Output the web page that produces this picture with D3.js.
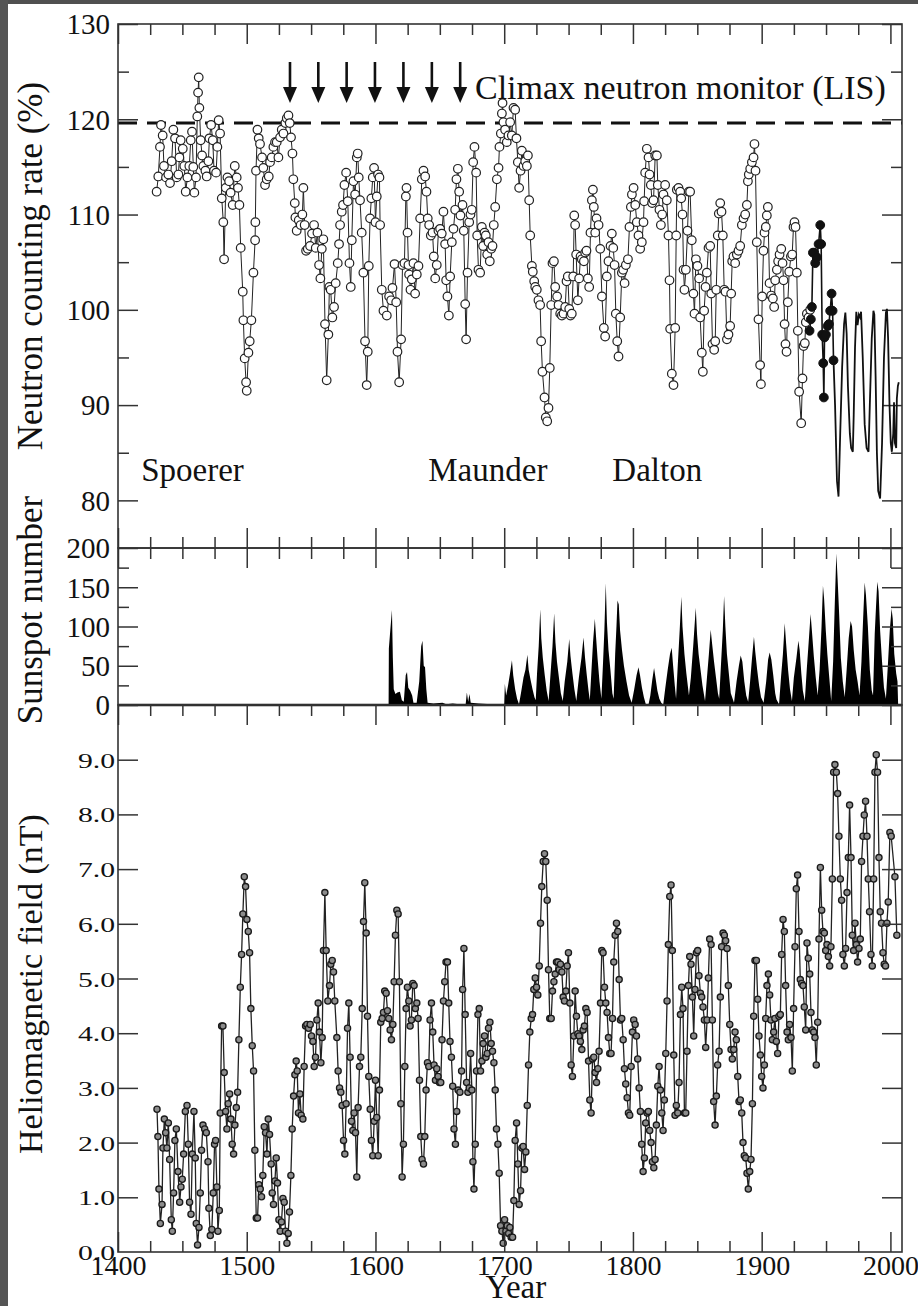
<!DOCTYPE html>
<html>
<head>
<meta charset="utf-8">
<script src="https://cdn.jsdelivr.net/npm/d3@7"></script>
<style>
  body { margin: 0; background: #fff; }
  svg text { font-family: "Liberation Serif", "Times New Roman", serif; fill: #111; }
  .axis path.domain { display: none; }
  .axis line { stroke: #333; stroke-width: 1.5px; }
</style>
</head>
<body>
<div id="chart"></div>
<script>
// ---- data ----

// neutron counting rate (%), open circles
const neutronOpen = [
  [1430.0,112.4],[1431.3,114.0],[1432.6,117.1],[1433.4,119.4],[1434.7,118.3],[1435.7,115.1],[1437.3,113.9],[1439.1,114.2],[1440.4,113.3],[1441.7,115.6],
  [1443.0,118.9],[1444.3,118.0],[1445.6,113.9],[1446.9,114.2],[1447.7,116.0],[1448.7,117.8],[1450.3,116.9],[1451.5,115.1],[1452.6,112.4],[1453.9,113.9],
  [1455.4,115.1],[1456.5,117.8],[1457.5,118.7],[1458.5,115.0],[1459.3,112.3],[1460.6,113.9],[1461.6,120.3],[1462.2,122.8],[1462.7,124.4],[1463.2,121.2],
  [1464.2,117.8],[1465.3,116.2],[1466.3,115.1],[1467.9,114.6],[1468.9,114.0],[1470.2,115.6],[1471.0,118.0],[1472.3,119.4],[1473.6,117.8],[1474.6,114.6],
  [1476.2,114.4],[1477.2,117.1],[1478.2,119.9],[1479.3,118.5],[1480.6,111.7],[1481.8,109.2],[1482.4,105.3],[1483.7,112.8],[1485.0,113.9],[1486.3,113.5],
  [1487.5,112.3],[1489.1,111.0],[1490.7,115.1],[1492.2,113.9],[1493.2,112.8],[1494.3,111.0],[1495.3,106.5],[1496.9,101.9],[1497.4,98.9],[1498.4,94.9],
  [1499.5,92.4],[1500.0,91.5],[1501.3,95.5],[1502.3,96.7],[1503.6,98.9],[1505.2,103.9],[1506.5,107.3],[1506.7,109.2],[1507.2,114.6],[1508.3,118.9],
  [1509.3,118.0],[1510.3,117.4],[1511.9,116.0],[1512.9,114.9],[1514.2,113.1],[1515.5,113.7],[1517.1,114.0],[1518.1,115.5],[1519.4,116.0],[1520.7,117.1],
  [1522.0,117.6],[1523.3,117.6],[1524.6,116.0],[1525.9,118.1],[1527.2,118.9],[1528.5,118.5],[1530.0,119.6],[1531.1,120.1],[1532.4,120.4],[1533.4,119.6],
  [1534.4,118.1],[1535.5,116.4],[1536.2,113.7],[1537.3,111.2],[1537.8,109.7],[1538.8,108.3],[1540.4,109.4],[1541.9,108.9],[1543.2,110.0],[1544.0,112.8],
  [1545.0,108.9],[1546.1,106.2],[1547.4,106.4],[1549.2,106.7],[1550.7,108.0],[1552.3,108.9],[1553.6,106.5],[1554.9,108.1],[1556.2,104.7],[1557.2,103.3],
  [1558.3,106.4],[1559.5,107.4],[1560.8,98.5],[1562.1,92.6],[1563.4,97.4],[1564.2,102.4],[1565.2,102.1],[1566.5,99.2],[1567.8,100.3],[1569.1,102.8],
  [1570.7,104.9],[1571.7,106.9],[1572.5,108.9],[1573.8,110.3],[1574.8,111.0],[1575.9,113.1],[1577.2,114.4],[1578.5,111.4],[1579.8,104.9],[1580.8,102.4],
  [1581.6,107.3],[1582.9,113.5],[1584.2,112.1],[1585.5,116.0],[1586.2,116.4],[1587.0,113.9],[1588.0,111.5],[1589.3,108.1],[1590.6,103.9],[1591.9,96.7],
  [1593.2,92.1],[1594.0,95.6],[1594.8,104.6],[1595.8,109.6],[1596.8,111.7],[1597.9,113.9],[1598.9,114.9],[1600.0,109.2],[1601.0,111.9],[1602.0,114.2],
  [1603.1,113.9],[1603.6,108.9],[1604.9,102.1],[1606.2,99.9],
  [1608.8,99.4],[1610.6,101.4],[1612.2,101.0],[1613.2,102.3],[1614.8,104.8],[1616.1,100.8],[1617.1,95.6],[1618.4,92.4],[1619.9,96.9],[1621.0,104.7],
  [1622.5,104.9],[1623.6,111.9],[1624.1,112.8],[1624.9,108.1],[1625.6,104.7],[1626.1,103.7],[1627.2,102.1],[1628.2,103.2],[1629.5,104.9],[1630.8,101.7],
  [1632.1,103.7],[1633.4,104.6],[1634.7,109.6],[1636.0,113.7],[1637.3,114.6],[1638.6,114.0],[1639.6,112.4],[1640.6,109.6],[1641.7,108.9],[1643.0,107.8],
  [1644.3,108.1],[1645.3,105.6],[1646.4,103.3],[1647.6,104.7],[1648.9,108.3],[1650.2,108.5],[1651.5,108.0],[1652.8,110.3],[1654.1,106.9],[1654.9,103.1],
  [1655.9,101.4],[1657.0,99.4],[1658.0,103.5],[1659.3,107.1],[1660.6,108.5],[1661.9,110.5],[1662.9,113.7],[1664.0,114.8],[1665.0,112.4],[1666.0,109.9],
  [1667.6,111.0],[1668.6,108.3],[1669.7,100.6],[1670.4,96.9],[1671.5,103.9],[1672.8,109.2],[1673.8,110.0],[1674.8,110.5],[1675.9,115.5],[1676.9,117.1],
  [1678.2,114.4],[1679.0,107.8],[1680.0,104.2],[1681.3,103.9],[1682.6,108.7],[1683.6,106.7],[1684.7,108.1],[1685.7,107.8],[1686.8,105.8],[1687.8,107.1],
  [1688.8,105.1],[1689.9,106.4],[1690.9,106.7],[1691.9,108.9],[1693.0,110.8],[1694.3,113.7],[1695.6,114.9],[1696.3,117.1],[1697.4,118.5],[1698.2,120.6],
  [1698.7,121.7],[1699.4,119.7],[1700.7,118.9],[1702.0,117.6],[1703.3,118.3],[1704.6,119.7],[1705.9,118.3],[1707.2,121.2],[1708.5,121.0],[1709.5,118.0],
  [1710.6,115.5],[1711.6,112.8],[1712.7,114.6],[1713.7,116.7],[1715.0,115.1],[1716.3,115.6],[1717.6,115.1],[1718.4,116.2],[1719.4,111.5],[1720.2,107.8],
  [1721.5,104.6],[1722.2,104.0],[1723.3,103.0],[1724.1,102.4],[1725.3,102.1],[1726.6,101.0],[1727.9,100.5],[1728.7,96.7],[1729.7,93.5],[1731.3,90.8],
  [1732.3,88.7],[1733.4,88.3],[1734.4,89.7],[1735.4,93.9],[1736.5,100.5],[1737.5,104.9],[1738.6,105.1],[1739.6,102.4],[1741.1,101.4],[1742.2,100.5],
  [1743.5,99.6],[1744.8,99.4],[1746.1,99.6],[1747.4,100.3],[1748.4,103.0],[1749.4,103.5],[1750.5,100.1],[1751.5,99.4],[1752.5,99.6],[1753.6,103.5],
  [1754.4,109.9],[1755.1,108.9],[1755.9,105.8],[1757.2,101.0],[1758.2,103.3],[1759.3,105.6],[1760.3,105.3],[1761.9,105.1],[1762.9,106.0],[1763.9,106.2],
  [1765.0,103.3],[1766.0,102.4],[1767.0,108.1],[1768.1,111.5],[1768.9,112.6],[1769.6,110.8],[1770.7,108.1],[1771.7,109.6],[1773.3,108.9],[1774.6,106.4],
  [1775.9,101.4],[1777.4,98.1],[1778.4,97.2],[1779.7,103.5],[1781.0,105.1],[1782.6,106.7],[1783.6,108.0],[1784.7,106.5],[1785.7,104.7],[1786.7,99.6],
  [1787.8,96.7],[1788.8,95.1],[1790.1,99.2],[1791.4,103.9],[1792.4,104.2],[1793.5,102.8],[1794.5,104.7],[1796.1,105.3],[1797.3,108.7],[1798.4,110.8],
  [1799.2,112.1],[1800.5,112.8],[1801.8,111.0],[1803.0,109.2],[1804.3,107.8],[1805.6,106.4],
  [1806.9,107.1],[1808.2,109.2],[1808.7,111.4],[1809.5,114.4],[1810.8,116.9],[1812.1,116.0],[1812.9,114.2],[1813.9,113.1],[1814.9,111.2],[1816.0,111.5],
  [1817.3,116.2],[1818.6,116.2],[1819.3,113.1],[1820.6,110.5],[1821.7,108.9],[1822.7,110.0],[1823.7,112.1],[1825.0,113.1],[1826.3,111.5],[1827.6,107.8],
  [1828.4,103.1],[1828.9,98.0],[1830.2,93.3],[1831.5,92.1],[1832.8,98.1],[1833.6,107.8],[1834.1,112.6],[1835.4,112.8],[1836.7,112.4],[1837.5,111.7],
  [1838.5,110.0],[1839.3,104.2],[1840.0,102.1],[1841.1,104.2],[1842.4,108.3],[1843.4,112.4],[1844.4,112.4],[1845.7,107.3],[1847.0,101.7],[1847.8,99.6],
  [1848.9,105.3],[1850.1,104.6],[1851.4,103.3],[1852.2,99.2],[1853.5,95.5],[1854.3,93.5],[1855.3,99.9],[1856.4,102.4],[1857.4,103.9],[1858.7,106.5],
  [1860.0,106.7],[1860.8,101.7],[1861.8,96.4],[1863.1,95.8],[1863.9,96.7],[1864.7,102.1],[1865.9,107.8],[1866.7,110.1],[1867.8,111.2],[1868.8,110.3],
  [1869.8,107.8],[1870.9,102.1],[1871.9,101.9],[1873.0,96.9],[1874.2,97.4],[1875.5,98.3],[1876.3,101.7],[1877.1,105.1],[1878.1,105.6],[1879.4,104.9],
  [1880.7,105.8],[1882.0,106.2],[1883.3,106.7],[1884.6,108.9],[1885.9,109.6],[1887.2,110.0],[1888.5,111.0],[1889.3,113.5],[1890.0,114.2],[1891.1,114.8],
  [1892.4,115.5],[1893.7,116.0],[1894.4,117.4],[1895.2,114.6],[1896.2,107.1],[1897.5,99.0],[1898.8,94.2],[1899.4,92.2],[1900.4,101.4],[1901.4,106.2],
  [1902.2,108.1],[1903.2,108.7],[1904.0,109.9],[1904.8,110.8],[1906.1,102.8],[1907.4,101.5],[1908.7,101.2],[1909.7,100.3],[1910.5,103.1],[1911.8,104.2],
  [1912.8,105.1],[1913.9,105.8],[1915.2,106.4],[1916.2,104.9],[1917.0,103.1],[1917.8,98.5],[1918.5,96.4],[1919.3,95.6],[1920.3,100.8],[1921.4,104.0],
  [1922.7,105.6],[1923.7,105.8],[1924.7,108.7],[1925.5,109.2],[1926.3,108.7],[1927.3,103.9],[1928.1,97.8],[1929.1,91.4],[1930.7,88.1],[1931.7,92.8],
  [1932.5,96.2],[1933.5,96.5],[1934.3,98.7],[1935.1,99.6],[1936.4,99.2],[1937.7,100.0]
];

// neutron counting rate, filled circles
const neutronFilled = [
  [1937.2,97.8],[1938.2,99.0],[1939.0,100.3],[1939.8,106.0],[1940.8,106.0],[1941.6,104.9],[1942.9,105.5],[1944.2,106.9],[1945.5,108.9],[1946.2,106.9],
  [1947.0,97.4],[1947.8,94.4],[1948.3,90.8],[1948.8,97.1],[1949.9,97.4],[1951.2,98.3],[1952.2,98.5],[1953.2,99.9],[1954.3,101.7],[1955.1,99.9],[1955.8,94.7]
];

// Climax neutron monitor, plain line
const climaxLine = [
  [1955.8,94.7],[1957.0,90.0],[1958.5,82.0],[1959.7,80.4],[1961.0,87.0],[1962.5,94.0],[1964.0,98.5],[1965.0,99.7],[1966.0,97.5],[1967.0,92.0],
  [1968.5,87.0],[1969.5,85.5],[1970.8,85.1],[1971.5,89.0],[1972.5,96.0],[1973.5,99.8],[1974.5,98.4],[1975.5,99.5],[1976.5,99.2],[1977.2,99.8],
  [1978.5,95.0],[1980.0,88.0],[1981.5,85.5],[1983.0,85.1],[1984.0,90.0],[1985.5,97.0],[1986.8,99.9],[1987.5,99.5],[1988.5,93.0],[1989.5,85.0],
  [1990.5,81.0],[1992.0,80.2],[1993.5,86.0],[1995.0,95.0],[1996.5,99.7],[1997.3,100.1],[1998.2,97.0],[1999.3,90.0],[2000.3,86.0],[2001.1,85.1],
  [2002.2,87.0],[2002.8,90.3],[2003.5,86.0],[2004.5,85.5],[2005.0,90.7],[2005.8,92.0],[2006.5,92.4]
];

const lisLevel = 119.6;
const arrowYears = [1533.6, 1555.6, 1577.6, 1599.6, 1621.7, 1643.8, 1665.8];
const minimaLabels = [["Spoerer", 1418], ["Maunder", 1641], ["Dalton", 1784]];

// sunspot number
const sunspots = [
  [1610.2,0],[1610.4,72],[1611.5,95],[1612.8,121],[1613.5,60],[1614.2,20],[1615.5,14],[1617,16],[1619,17],[1620.5,6],
  [1622,4],[1623.5,38],[1624.5,42],[1625.5,22],[1627,18],[1628.5,12],[1629.5,3],[1632,3],[1634,30],[1635.5,75],
  [1636.5,82],[1637.5,50],[1638.5,48],[1639.5,20],[1640.5,3],[1645,2],[1652,3],[1655,1],[1660,2],[1665,1],
  [1670,0],[1671,16],[1672,4],[1673,14],[1674,3],[1680,2],[1690,1],[1697,0],
  [1700,0],[1700.5,27],[1701.5,12],[1703,25],[1704.5,40],[1706,57],[1707,38],[1708.5,20],[1710,8],[1711.5,1],
  [1713,15],[1715,35],[1716.5,45],[1718,64],[1719,45],[1720.5,32],[1722,20],[1723.5,10],[1724.5,6],
  [1725.5,40],[1726.8,75],[1728,122],[1728.8,85],[1730,60],[1731.5,38],[1733,18],[1734.5,5],
  [1736,40],[1737.5,75],[1738.8,117],[1739.8,80],[1741,55],[1742.5,35],[1744,15],[1745.5,5],
  [1747,30],[1749,55],[1750.5,84],[1751.5,62],[1753,40],[1754.5,20],[1756,5],
  [1758,35],[1760,60],[1761.6,86],[1762.8,60],[1764,40],[1765.5,18],[1766.5,6],
  [1767.8,45],[1769,80],[1770.4,110],[1771.3,88],[1772.5,60],[1774,30],[1775.5,8],
  [1776.8,55],[1777.8,95],[1778.9,155],[1779.8,105],[1781,70],[1782.5,45],[1784,15],[1785,8],
  [1786.2,65],[1787.2,100],[1788,133],[1789,128],[1790,95],[1791.5,70],[1793,50],[1795,30],[1797,12],[1799,3],
  [1801,20],[1802.8,38],[1804.3,48],[1805.5,38],[1807,22],[1808.5,10],[1810,1],[1812,0],
  [1813.5,12],[1815,32],[1816.4,47],[1817.5,35],[1819,18],[1820.5,8],[1822,3],[1823.5,0],
  [1825,20],[1827,45],[1828.8,65],[1830.1,73],[1831.2,50],[1832.5,25],[1833.5,8],
  [1834.8,50],[1836.3,95],[1837.6,138],[1838.5,100],[1840,65],[1841.5,40],[1843.5,12],
  [1845,35],[1846.8,75],[1848.8,124],[1849.8,90],[1851,65],[1852.5,45],[1854,25],[1856,5],
  [1857.5,35],[1859,65],[1860.4,96],[1861.5,78],[1863,55],[1864.5,35],[1866,15],[1867,8],
  [1868.5,55],[1869.8,95],[1870.8,139],[1871.8,100],[1873,65],[1874.5,40],[1876,15],[1878.5,3],
  [1880.5,30],[1882.3,50],[1883.7,63],[1885,55],[1886.5,30],[1888,12],[1889.5,4],
  [1891,30],[1892.5,60],[1894,87],[1895,68],[1896.5,45],[1898,25],[1899.5,10],[1901.5,3],
  [1903.5,30],[1905,58],[1906.2,67],[1907.5,58],[1909,38],[1910.5,15],[1911.5,7],[1913.5,1],
  [1915,35],[1916.5,65],[1917.9,104],[1919,78],[1920.5,45],[1922,20],[1923.5,5],
  [1925,35],[1927,60],[1928.5,82],[1929.5,70],[1930.8,40],[1932,18],[1933.5,5],
  [1935,45],[1936.5,80],[1938,116],[1939,95],[1940.5,62],[1942,35],[1943.5,12],
  [1945,45],[1946.5,100],[1947.6,152],[1948.5,135],[1949.8,95],[1951,65],[1952.5,35],[1954,5],
  [1955.5,55],[1956.8,130],[1958,193],[1959,160],[1960.2,115],[1961.5,60],[1963,30],[1964.5,10],
  [1966,45],[1967.6,85],[1969.1,107],[1970.2,100],[1971.5,70],[1973,45],[1974.5,30],[1976,12],
  [1977.5,55],[1978.8,110],[1980,156],[1981,140],[1982.5,100],[1984,45],[1985.5,18],[1986.5,12],
  [1987.8,90],[1988.8,125],[1989.8,157],[1990.8,145],[1992,95],[1993.5,55],[1995,22],[1996.5,8],
  [1998,50],[1999.5,95],[2000.9,123],[2001.8,110],[2003,65],[2004.5,40],[2005.5,30],[2006,0]
];

// heliomagnetic field (nT)
const helioField = [
  [1430.3,2.61],[1431.0,2.11],[1431.8,1.15],[1432.9,0.52],[1434.2,0.87],[1434.9,1.90],[1436.0,2.43],[1437.0,2.18],[1438.0,1.90],[1439.1,2.36],
  [1440.1,1.69],[1441.4,0.59],[1442.2,0.38],[1443.2,1.08],[1444.2,2.04],[1445.3,2.25],[1446.6,1.47],[1447.9,0.91],[1448.9,1.19],[1449.9,1.33],
  [1451.0,1.79],[1452.3,2.57],[1453.6,2.68],[1454.6,1.97],[1455.6,0.91],[1456.7,0.69],[1457.7,1.79],[1459.0,2.57],[1460.0,1.72],[1460.8,0.52],
  [1461.8,0.13],[1462.9,0.45],[1463.9,1.08],[1464.9,1.86],[1466.0,2.32],[1467.3,2.25],[1468.6,2.18],[1469.9,1.65],[1470.6,0.80],[1471.7,0.30],
  [1472.9,0.41],[1474.0,1.08],[1475.0,1.97],[1475.8,2.04],[1476.8,1.19],[1477.6,0.38],[1478.7,0.76],[1479.4,2.54],[1480.5,4.13],[1481.5,4.13],
  [1482.5,3.28],[1483.6,2.57],[1484.6,2.25],[1485.6,2.71],[1486.7,2.89],[1487.7,2.43],[1488.7,1.97],[1489.8,1.79],[1490.8,2.32],[1491.9,2.64],
  [1492.9,2.92],[1493.9,3.88],[1495.0,4.84],[1496.0,5.44],[1497.0,6.18],[1498.1,6.86],[1499.1,6.68],[1500.1,6.08],[1501.2,5.86],[1502.2,5.47],
  [1503.2,4.45],[1504.3,3.77],[1505.3,3.31],[1506.3,1.86],[1507.4,0.62],[1508.4,0.62],[1509.4,1.23],[1510.5,1.15],[1511.5,1.01],[1512.5,1.40],
  [1513.6,2.29],[1514.6,2.18],[1515.7,1.79],[1516.7,2.43],[1517.7,2.15],[1519.0,1.61],[1519.8,1.08],[1520.8,0.87],[1521.9,1.30],[1522.9,1.72],
  [1523.9,1.26],[1525.0,0.59],[1526.0,0.38],[1527.0,0.55],[1528.1,0.98],[1529.1,0.91],[1530.1,0.38],[1531.2,0.16],[1532.2,0.34],[1533.2,0.73],
  [1534.3,1.40],[1535.3,2.25],[1536.4,2.85],[1537.4,3.24],[1538.4,3.49],[1539.2,3.31],[1540.2,2.54],[1541.3,2.89],[1542.3,2.50],[1543.6,2.43],
  [1544.6,3.39],[1545.7,4.13],[1546.7,4.16],[1548.0,4.09],[1549.3,4.16],[1550.3,3.95],[1551.4,3.85],[1552.4,3.39],[1553.4,3.56],[1554.5,4.24],
  [1555.5,4.55],[1556.5,4.02],[1557.6,3.46],[1558.6,3.92],[1559.6,5.51],[1560.7,6.57],[1561.7,5.51],[1563.0,4.59],[1564.3,4.87],[1565.3,5.26],
  [1566.4,5.33],[1567.4,5.12],[1568.4,4.59],[1570.0,3.92],[1571.0,3.31],[1572.1,3.00],[1573.1,2.92],[1574.1,2.68],[1575.2,2.04],[1576.2,1.79],
  [1577.2,2.71],[1578.3,4.09],[1579.3,4.55],[1580.3,3.56],[1581.4,2.39],[1582.4,2.22],[1583.4,2.54],[1584.5,2.18],[1585.5,1.37],[1586.5,2.64],
  [1587.6,3.39],[1588.6,3.56],[1589.7,4.45],[1590.7,6.04],[1591.7,6.75],[1592.8,5.83],[1593.8,4.31],[1594.8,3.21],[1595.9,2.61],[1596.9,2.04],
  [1597.9,1.76],[1599.0,2.39],[1600.0,3.14],[1601.0,2.46],[1602.1,1.76],[1603.1,2.96],[1604.1,4.20],[1605.2,4.27],[1606.2,4.38],[1607.2,4.77],
  [1608.3,4.73],[1609.3,4.41],[1610.3,4.27],[1611.4,4.06],[1612.4,3.88],[1613.5,4.16],[1614.5,4.94],[1615.5,5.79],[1616.6,6.25],[1617.6,6.18],
  [1618.6,4.94],[1619.7,2.71],[1620.7,1.37],[1621.7,1.97],[1622.8,3.39],[1623.8,4.45],[1624.8,4.84],[1625.9,4.59],[1626.9,4.13],[1627.9,4.24],
  [1629.0,4.91],[1630.0,4.87],[1631.0,4.45],[1632.1,4.55],[1633.1,4.27],[1634.2,3.14],[1635.2,2.11],[1636.2,1.69],[1637.3,1.61],[1638.3,2.11],
  [1639.3,2.96],[1640.4,3.46],[1641.4,3.39],[1642.4,4.24],[1643.5,4.55],[1644.5,4.02],[1645.5,3.42],[1646.6,3.14],[1647.6,3.35],[1648.6,3.21],
  [1649.7,3.10],[1650.7,3.10],[1651.7,3.88],[1652.8,4.59],[1653.8,4.94],[1654.8,5.30],[1655.9,5.30],[1656.9,4.55],[1657.9,3.85],[1659.0,3.56],
  [1660.0,3.03],[1661.0,2.25],[1662.1,1.97],[1663.1,2.57],[1664.2,2.96],[1665.6,2.92],[1666.9,3.31],[1667.7,4.80],[1668.7,5.55],[1669.7,4.34],
  [1670.8,3.10],[1671.8,2.92],[1672.8,3.00],[1673.9,3.63],[1674.9,2.96],[1675.7,1.65],[1676.5,1.15],[1677.5,1.97],[1678.5,3.31],[1679.6,4.34],
  [1680.6,4.45],[1681.6,3.31],[1682.7,3.49],[1683.7,3.81],[1684.7,3.95],[1685.8,3.56],[1686.8,3.63],[1687.8,4.09],[1688.9,4.20],[1689.9,3.81],
  [1690.9,3.67],[1692.0,3.46],[1693.0,2.96],[1694.0,2.25],[1695.1,1.97],[1696.1,1.44],[1697.2,0.48],[1698.2,0.38],[1699.2,0.16],[1700.3,0.59],
  [1701.3,0.38],[1702.3,0.48],[1703.4,0.34],[1704.4,0.45],[1705.4,0.27],[1706.5,0.27],[1707.5,0.94],[1708.5,2.04],[1709.6,2.36],[1710.6,1.61],
  [1711.6,0.87],[1712.7,1.12],[1713.7,1.90],[1714.7,1.93],[1715.8,1.51],[1716.8,1.83],[1717.9,2.68],[1718.9,3.42],[1719.9,4.02],[1721.0,4.27],
  [1722.0,4.34],[1723.0,4.80],[1724.1,5.01],[1725.1,4.84],[1726.1,4.70],[1727.2,5.23],[1728.2,6.01],[1729.2,6.68],[1730.3,7.14],[1731.3,7.28],
  [1732.3,7.14],[1733.4,6.43],[1734.4,5.16],[1735.4,4.27],[1736.5,4.27],[1737.5,4.77],[1738.6,4.94],[1739.6,5.08],[1740.6,5.30],[1741.7,5.30],
  [1742.7,5.16],[1743.7,5.26],[1744.8,5.12],[1745.8,4.66],[1746.8,4.59],[1747.9,4.77],[1748.9,5.23],[1749.9,5.47],[1751.0,4.55],[1752.0,3.42],
  [1753.0,3.21],[1754.1,3.95],[1755.1,4.77],[1756.1,4.31],[1757.2,3.99],[1758.2,3.95],[1759.2,3.85],[1760.3,3.70],[1761.3,4.06],[1762.3,4.13],
  [1763.4,4.45],[1764.4,4.38],[1765.5,3.49],[1766.5,2.78],[1767.5,2.54],[1768.6,3.53],[1769.6,3.56],[1770.6,3.28],[1771.7,3.10],[1772.7,3.35],
  [1773.7,3.67],[1774.8,4.55],[1775.8,5.51],[1776.8,5.47],[1777.9,4.84],[1778.9,4.55],[1779.9,4.38],[1781.0,3.92],[1782.0,3.63],[1783.0,3.63],
  [1784.1,4.27],[1785.1,5.30],[1786.2,5.79],[1787.2,6.01],[1788.2,5.86],[1789.3,4.98],[1790.3,4.24],[1791.3,4.27],[1792.4,3.88],[1793.4,3.35],
  [1794.4,3.07],[1795.5,2.82],[1796.5,2.54],[1797.5,2.50],[1798.6,3.39],[1799.6,4.02],[1800.6,4.24],[1801.7,4.16],[1802.7,3.95],[1803.7,3.53],
  [1804.8,3.00],[1805.8,2.57],[1806.8,1.97],[1807.9,1.47],[1808.9,1.72],[1809.9,2.36],[1811.0,2.54],[1812.0,2.57],[1813.0,2.22],[1814.1,2.00],
  [1815.1,1.65],[1816.2,1.54],[1817.2,1.69],[1818.2,2.32],[1819.3,3.03],[1820.3,3.39],[1821.3,2.96],[1822.4,2.54],[1823.4,2.22],[1824.4,2.78],
  [1825.5,3.63],[1826.5,4.59],[1827.5,5.62],[1828.6,6.50],[1829.6,6.71],[1830.6,5.51],[1831.7,3.60],[1832.7,2.50],[1833.7,2.68],[1834.8,2.54],
  [1835.8,3.10],[1836.9,4.34],[1837.9,4.84],[1838.9,4.45],[1840.0,2.54],[1841.0,2.54],[1842.0,3.67],[1843.1,4.87],[1844.1,5.40],[1845.1,5.26],
  [1846.2,4.66],[1847.2,3.95],[1848.2,4.80],[1849.3,5.47],[1850.3,5.51],[1851.3,5.05],[1852.4,4.73],[1853.4,4.66],[1854.4,4.48],[1855.5,4.24],
  [1856.5,3.74],[1857.6,4.24],[1858.6,5.01],[1859.6,5.72],[1860.7,5.62],[1861.7,4.24],[1862.7,2.75],[1863.8,2.32],[1864.8,2.85],[1865.8,3.42],
  [1866.9,3.67],[1867.9,4.66],[1868.9,5.58],[1870.0,5.83],[1871.0,5.79],[1872.0,5.69],[1873.1,5.55],[1874.1,4.87],[1875.2,4.16],[1876.2,3.70],
  [1877.2,3.53],[1878.3,3.70],[1879.3,4.02],[1880.3,3.88],[1881.4,3.21],[1882.4,2.75],[1883.4,2.78],[1884.5,2.54],[1885.5,2.00],[1886.5,1.76],
  [1887.6,1.72],[1888.6,1.44],[1889.6,1.15],[1890.7,1.47],[1891.7,1.69],[1892.8,2.71],[1893.8,4.31],[1894.8,5.33],[1895.9,5.33],[1896.9,4.62],
  [1897.9,3.95],[1899.0,3.60],[1900.0,3.21],[1901.0,3.00],[1902.1,3.42],[1903.1,4.27],[1904.1,4.87],[1905.2,5.08],[1906.2,4.70],[1907.2,4.24],
  [1908.3,3.88],[1909.3,4.02],[1910.3,4.27],[1911.4,3.85],[1912.4,3.63],[1913.4,4.31],[1914.5,4.34],[1915.5,5.44],[1916.6,6.08],[1917.6,5.86],
  [1918.6,4.87],[1919.7,4.02],[1920.7,3.88],[1921.7,4.16],[1922.8,3.92],[1923.8,3.31],[1924.8,4.45],[1925.9,5.58],[1926.9,6.64],[1927.9,6.89],
  [1929.0,5.86],[1930.0,4.98],[1931.0,4.91],[1932.1,4.87],[1933.1,4.48],[1934.2,4.06],[1935.2,5.65],[1936.2,5.37],[1937.3,5.08],[1938.3,4.38],
  [1939.3,4.06],[1940.4,4.02],[1941.4,3.92],[1942.4,3.42],[1943.5,4.20],[1944.5,5.72],[1945.6,7.03],[1946.6,6.25],[1947.6,5.86],[1948.7,5.83],
  [1949.7,5.51],[1950.7,5.62],[1951.8,5.40],[1952.8,5.23],[1953.8,5.58],[1954.9,6.82],[1955.9,8.77],[1956.9,8.91],[1958.0,8.77],[1959.0,8.38],
  [1960.0,7.60],[1961.1,6.82],[1962.1,6.43],[1963.1,5.44],[1964.2,5.23],[1965.2,5.55],[1966.3,6.57],[1967.3,7.21],[1968.3,8.17],[1969.4,7.21],
  [1970.4,5.79],[1971.4,5.51],[1972.5,6.01],[1973.5,5.62],[1974.5,5.30],[1975.6,5.55],[1976.6,5.72],[1977.6,7.14],[1978.7,7.60],[1979.7,7.99],
  [1980.7,8.24],[1981.8,7.60],[1982.8,6.82],[1983.8,6.22],[1984.9,5.44],[1985.9,5.23],[1987.0,6.82],[1988.0,8.77],[1989.0,9.09],[1990.0,8.77],
  [1991.1,7.21],[1992.1,6.22],[1993.1,6.01],[1994.2,5.47],[1995.2,5.26],[1996.2,5.23],[1997.3,6.01],[1998.3,6.40],[1999.6,7.67],[2000.6,7.60],
  [2003.5,6.86],[2005.0,5.79]
];

// axis ticks
const yearMajor = [1400, 1500, 1600, 1700, 1800, 1900, 2000];
const yearMinor = [1425, 1450, 1475, 1525, 1550, 1575, 1625, 1650, 1675, 1725, 1750, 1775,
                   1825, 1850, 1875, 1925, 1950, 1975];
const neutronTicks = [80, 90, 100, 110, 120, 130];
const neutronMinor = [85, 95, 105, 115, 125];
const sunspotTicks = [0, 50, 100, 150, 200];
const sunspotMinor = [25, 75, 125, 175];
const fieldTicks = [0, 1, 2, 3, 4, 5, 6, 7, 8, 9];

// ---- layout ----
const W = 918, H = 1306;
const left = 118, right = 902;
const topY = 24, midY = 548, botY = 705, baseY = 1252;

const svg = d3.select("#chart").append("svg")
    .attr("width", W)
    .attr("height", H);

svg.append("rect").attr("width", W).attr("height", H).attr("fill", "#fff");
// dark scan border
svg.append("rect").attr("x", 0).attr("y", 0).attr("width", W).attr("height", 4).attr("fill", "#505050");
svg.append("rect").attr("x", 0).attr("y", 0).attr("width", 8).attr("height", H).attr("fill", "#555");

// scales
const x = d3.scaleLinear().domain([1400, 2009]).range([left, right]);
const yN = d3.scaleLinear().domain([75, 130]).range([midY, topY]);
const yS = d3.scaleLinear().domain([0, 200]).range([botY, midY]);
const yH = d3.scaleLinear().domain([0, 10]).range([baseY, botY]);

// helper: draw major + minor ticks on one edge
function edgeTicks(axisFn, scale, major, minor, tx, ty, labels, fmt, fontSize) {
    let gMaj = svg.append("g").attr("class", "axis")
        .attr("transform", `translate(${tx},${ty})`)
        .call(axisFn(scale).tickValues(major).tickSize(-20).tickPadding(8)
            .tickFormat(labels ? fmt : ""));
    svg.append("g").attr("class", "axis")
        .attr("transform", `translate(${tx},${ty})`)
        .call(axisFn(scale).tickValues(minor).tickSize(-11).tickFormat(""));
    gMaj.selectAll("text").style("font-size", fontSize + "px");
    return gMaj;
}

// ---------- top panel: neutron rate ----------
let gTopLeft = edgeTicks(d3.axisLeft, yN, neutronTicks, neutronMinor, left, 0, true, d3.format("d"), 29);
gTopLeft.selectAll("text").attr("dy", "0.34em");
edgeTicks(d3.axisRight, yN, neutronTicks, neutronMinor, right, 0, false);
edgeTicks(d3.axisTop, x, yearMajor, yearMinor, 0, topY, false);
edgeTicks(d3.axisBottom, x, yearMajor, yearMinor, 0, midY, false);

// LIS dashed line
svg.append("line")
    .attr("x1", left).attr("x2", right)
    .attr("y1", yN(lisLevel)).attr("y2", yN(lisLevel))
    .attr("stroke", "#111").attr("stroke-width", 3)
    .attr("stroke-dasharray", "19 10");

const lineN = d3.line().x(d => x(d[0])).y(d => yN(d[1]));

svg.append("path").datum(neutronOpen)
    .attr("d", lineN).attr("fill", "none").attr("stroke", "#222").attr("stroke-width", 1);
svg.append("path").datum(neutronFilled)
    .attr("d", lineN).attr("fill", "none").attr("stroke", "#111").attr("stroke-width", 1.6);
svg.append("path").datum(climaxLine)
    .attr("d", lineN).attr("fill", "none").attr("stroke", "#111").attr("stroke-width", 1.8);

svg.append("g").selectAll("circle").data(neutronOpen).join("circle")
    .attr("cx", d => x(d[0])).attr("cy", d => yN(d[1])).attr("r", 4.3)
    .attr("fill", "#fff").attr("stroke", "#222").attr("stroke-width", 1.2);
svg.append("g").selectAll("circle").data(neutronFilled).join("circle")
    .attr("cx", d => x(d[0])).attr("cy", d => yN(d[1])).attr("r", 4.4)
    .attr("fill", "#111").attr("stroke", "#111").attr("stroke-width", 1);

// arrows
let arrows = svg.append("g").selectAll("g").data(arrowYears).join("g")
    .attr("transform", d => `translate(${x(d)},0)`);
arrows.append("line").attr("x1", 0).attr("x2", 0).attr("y1", 62).attr("y2", 92)
    .attr("stroke", "#111").attr("stroke-width", 2.6);
arrows.append("path").attr("d", "M-7,87 L7,87 L0,103 Z").attr("fill", "#111");

svg.append("text").attr("x", 475).attr("y", 99)
    .style("font-size", "34px").text("Climax neutron monitor (LIS)");

svg.selectAll(".minlab").data(minimaLabels).join("text")
    .attr("class", "minlab")
    .attr("x", d => x(d[1])).attr("y", 481)
    .style("font-size", "33px").text(d => d[0]);

// ---------- middle panel: sunspots ----------
const areaS = d3.area().x(d => x(d[0])).y0(yS(0)).y1(d => yS(d[1]));
svg.append("path").datum(sunspots).attr("d", areaS).attr("fill", "#000");
svg.append("line").attr("x1", left).attr("x2", right).attr("y1", yS(0)).attr("y2", yS(0))
    .attr("stroke", "#111").attr("stroke-width", 2.5);

let gMidLeft = edgeTicks(d3.axisLeft, yS, sunspotTicks, sunspotMinor, left, 0, true, d3.format("d"), 29);
gMidLeft.selectAll("text").attr("dy", "0.34em");
edgeTicks(d3.axisRight, yS, sunspotTicks, sunspotMinor, right, 0, false);
edgeTicks(d3.axisTop, x, yearMajor, yearMinor, 0, midY, false);

// ---------- bottom panel: heliomagnetic field ----------
const lineH = d3.line().x(d => x(d[0])).y(d => yH(d[1]));
svg.append("path").datum(helioField)
    .attr("d", lineH).attr("fill", "none").attr("stroke", "#222").attr("stroke-width", 1.3);
svg.append("g").selectAll("circle").data(helioField).join("circle")
    .attr("cx", d => x(d[0])).attr("cy", d => yH(d[1])).attr("r", 3.1)
    .attr("fill", "#8c8c8c").attr("stroke", "#1a1a1a").attr("stroke-width", 1.3);

svg.append("g").attr("class", "axis")
    .attr("transform", `translate(${left},0)`)
    .call(d3.axisLeft(yH).tickValues(fieldTicks.slice(1)).tickSize(-20).tickFormat(""));
svg.append("g").attr("class", "axis")
    .attr("transform", `translate(${right},0)`)
    .call(d3.axisRight(yH).tickValues(fieldTicks.slice(1)).tickSize(-20).tickFormat(""));
// stretched labels like the scan
svg.append("g").selectAll("text").data(fieldTicks).join("text")
    .attr("transform", d => `translate(${left - 3},${yH(d) + 8}) scale(1.35,1)`)
    .attr("text-anchor", "end")
    .style("font-size", "22px")
    .text(d => d3.format(".1f")(d));

edgeTicks(d3.axisTop, x, yearMajor, yearMinor, 0, botY, false);
let gX = edgeTicks(d3.axisBottom, x, yearMajor, yearMinor, 0, baseY, true, d3.format("d"), 28);
gX.selectAll("text").attr("y", 3).attr("dy", "0.71em");

// frames
[[topY, midY], [midY, botY], [botY, baseY]].forEach(p => {
    svg.append("rect")
        .attr("x", left).attr("y", p[0])
        .attr("width", right - left).attr("height", p[1] - p[0])
        .attr("fill", "none").attr("stroke", "#333").attr("stroke-width", 1.6);
});

// axis titles
const yTitles = [["Neutron counting rate (%)", (topY + 500) / 2 + 4, 35],
                 ["Sunspot number", 610, 35],
                 ["Heliomagnetic field (nT)", 984, 34]];
svg.selectAll(".ytitle").data(yTitles).join("text")
    .attr("class", "ytitle")
    .attr("transform", d => `translate(42,${d[1]}) rotate(-90)`)
    .attr("text-anchor", "middle")
    .style("font-size", d => d[2] + "px")
    .text(d => d[0]);

svg.append("text").attr("x", x(1709)).attr("y", 1298)
    .attr("text-anchor", "middle").style("font-size", "33px").text("Year");
</script>
</body>
</html>
